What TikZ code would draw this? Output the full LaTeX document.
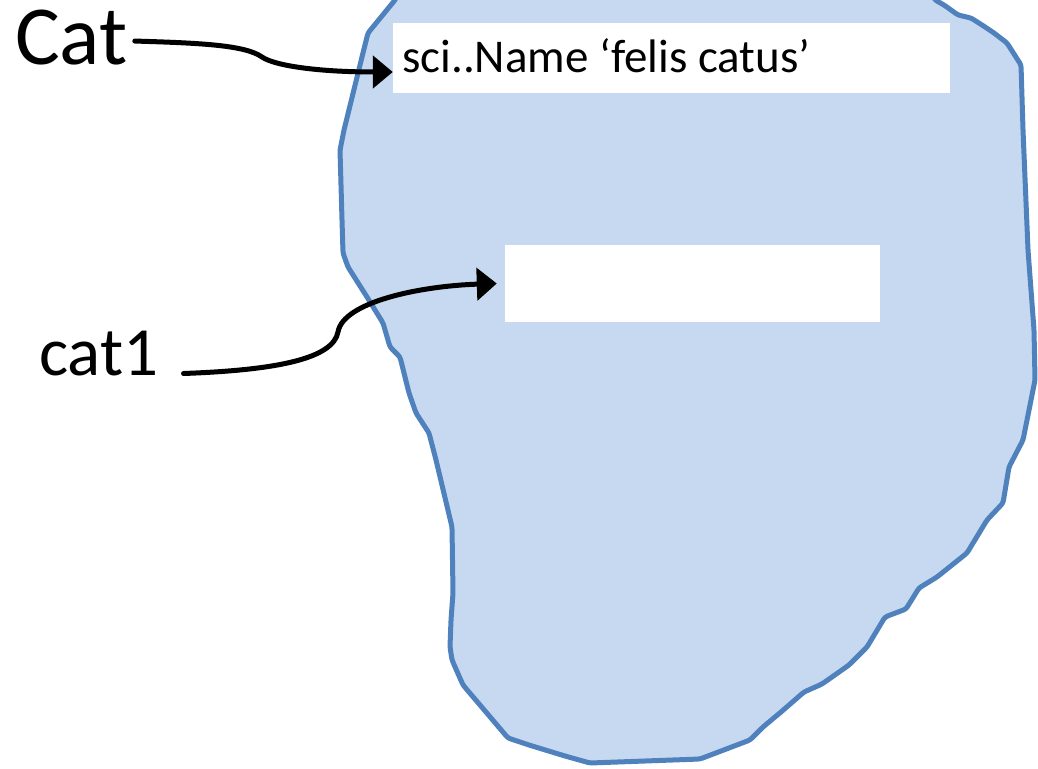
\documentclass[tikz,border=0pt]{standalone}
\usepackage{fontspec}
\setmainfont{Carlito}
\usetikzlibrary{arrows.meta}
\definecolor{blobfill}{RGB}{198,217,240}
\definecolor{blobline}{RGB}{79,129,189}
\begin{document}
\begin{tikzpicture}[x=1pt,y=-1pt,
  blob/.style={fill=blobfill, draw=blobline, line width=5pt, rounded corners=2.5pt, line join=round},
  slot/.style={fill=white, draw=none, inner sep=0pt},
  label/.style={inner sep=0pt, anchor=base west, text=black},
  pointer/.style={draw=black, line width=5pt, line cap=round, -{Triangle[length=20pt,width=32pt]}}]
\useasboundingbox (0,0) rectangle (1038,768);
\clip (0,0) rectangle (1038,768);
% the object region
\path[blob] (395,0) -- (410,-30) -- (920,-30) -- (935,0) -- (944,5) -- (958,15) -- (971,18)
  -- (982,25) -- (994,33) -- (1007,43) -- (1021,65) -- (1023,130) -- (1028,250) -- (1034,330)
  -- (1035,380) -- (1023,440) -- (1009,467) -- (1003,503) -- (987,520) -- (967,553) -- (937,577)
  -- (919,588) -- (906,609) -- (885,617) -- (867,647) -- (849,665) -- (822,684) -- (804,692)
  -- (781,712) -- (763,727) -- (750,740) -- (700,759) -- (590,763) -- (565,756) -- (529,745)
  -- (508,738) -- (463,685) -- (452,660) -- (450,647) -- (451,620) -- (453,593) -- (452,527)
  -- (436,460) -- (429,433) -- (416,413) -- (409,393) -- (400,357) -- (390,347) -- (383,323)
  -- (367,297) -- (348,267) -- (343,253) -- (342,220) -- (340,150) -- (344,130) -- (362,57)
  -- (368,33) -- (377,22) -- cycle;
% fields inside the object
\node[slot, minimum width=557pt, minimum height=70pt] (box1) at (671.5,58) {};
\node[label, font=\fontsize{47}{52}\selectfont] (sci) at (402,72) {sci..Name ‘felis catus’};
\node[slot, minimum width=375pt, minimum height=77pt] (box2) at (692.5,283.5) {};
% reference names
\node[label, font=\fontsize{84}{94}\selectfont] (Cat) at (15,64) {Cat};
\node[label, font=\fontsize{69}{80}\selectfont] (cat1) at (39,375.5) {cat1};
% references
\draw[pointer] ([xshift=7pt,yshift=-4pt]Cat.east) .. controls (200,43) and (245,45) .. (262,57)
  .. controls (275,66) and (320,72) .. ([yshift=-14pt]box1.west);
\draw[pointer] ([xshift=25pt,yshift=2pt]cat1.base east) .. controls (280,370) and (333,358) .. (338,332)
  .. controls (343,302) and (420,286) .. ([xshift=-8pt]box2.west);
\end{tikzpicture}
\end{document}
